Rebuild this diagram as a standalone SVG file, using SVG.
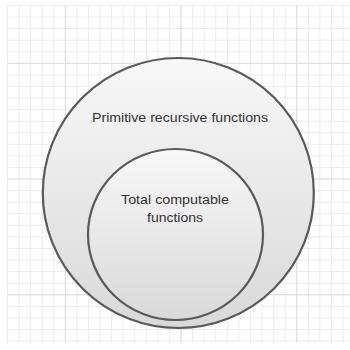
<svg xmlns="http://www.w3.org/2000/svg" width="350" height="350" viewBox="0 0 350 350">
  <defs>
    <pattern id="minor" patternUnits="userSpaceOnUse" x="7" y="5" width="11.57" height="11.57">
      <path d="M0 0.5 H11.57 M0.5 0 V11.57" stroke="#ebebeb" stroke-width="1" fill="none"/>
    </pattern>
    <pattern id="major" patternUnits="userSpaceOnUse" x="64.85" y="62.85" width="115.7" height="115.7">
      <path d="M0 0.5 H115.7 M0.5 0 V115.7" stroke="#dedede" stroke-width="1" fill="none"/>
    </pattern>
    <linearGradient id="fillGrad" x1="0" y1="0" x2="0" y2="1">
      <stop offset="0" stop-color="#f8f8f8"/>
      <stop offset="1" stop-color="#d9d9d9"/>
    </linearGradient>
    <style>
      .set { fill: url(#fillGrad); stroke: #5a5a5a; stroke-width: 2.2; }
      .label { font-family: "Liberation Sans", Arial, sans-serif; font-size: 12.5px; fill: #333333; text-anchor: middle; }
    </style>
  </defs>
  <rect x="0" y="0" width="350" height="350" fill="#ffffff"/>
  <rect x="7" y="5" width="343" height="338" fill="url(#minor)"/>
  <rect x="7" y="5" width="343" height="338" fill="url(#major)"/>
  <g id="primitive-recursive">
    <ellipse class="set" cx="178.3" cy="193" rx="135.5" ry="135"/>
    <text class="label" x="180" y="121.5" textLength="176" lengthAdjust="spacingAndGlyphs">Primitive recursive functions</text>
  </g>
  <g id="total-computable">
    <ellipse class="set" cx="175.5" cy="234.5" rx="87.5" ry="85.5"/>
    <text class="label" x="175" y="203.5" textLength="108" lengthAdjust="spacingAndGlyphs">Total computable</text>
    <text class="label" x="175" y="221.5" textLength="56" lengthAdjust="spacingAndGlyphs">functions</text>
  </g>
  <g id="connectors"/>
</svg>
